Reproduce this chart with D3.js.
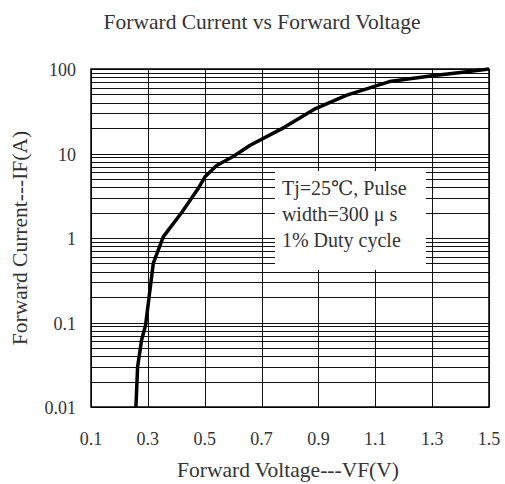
<!DOCTYPE html>
<html>
<head>
<meta charset="utf-8">
<script src="https://cdn.jsdelivr.net/npm/d3@7"></script>
<style>
  body { margin: 0; background: #fff; }
  text { font-family: "Liberation Serif", "DejaVu Serif", serif; fill: #333; }
</style>
</head>
<body>
<svg id="chart" width="505" height="484"></svg>
<script>
// data
const voltage = [0.258, 0.264, 0.278, 0.292, 0.319, 0.354, 0.419, 0.477, 0.501, 0.542, 0.60, 0.66, 0.78, 0.89, 1.0, 1.15, 1.3, 1.4, 1.5];
const current = [0.01, 0.03, 0.062, 0.093, 0.5, 1.03, 2.0, 3.85, 5.3, 7.2, 9.2, 12.5, 20.4, 34, 49, 71, 83, 91, 100];
const xTicks = [0.1, 0.3, 0.5, 0.7, 0.9, 1.1, 1.3, 1.5];
const yTicks = [0.01, 0.1, 1, 10, 100];
const noteLines = ["Tj=25\u2103, Pulse", "width=300 \u03bc s", "1% Duty cycle"];

const svg = d3.select("#chart");
const width = 505, height = 484;
const margin = {top: 69, right: 16, bottom: 77, left: 91};

const x = d3.scaleLinear()
  .domain([0.1, 1.5])
  .range([margin.left, width - margin.right]);

const y = d3.scaleLog()
  .domain([0.01, 100])
  .range([height - margin.bottom, margin.top]);

// horizontal log grid (1..9 per decade)
svg.append("g")
  .selectAll("line")
  .data(y.ticks())
  .join("line")
    .attr("x1", x(0.1)).attr("x2", x(1.5))
    .attr("y1", d => Math.round(y(d)) + 0.5)
    .attr("y2", d => Math.round(y(d)) + 0.5)
    .attr("stroke", "#111")
    .attr("stroke-width", 1);

// vertical grid
svg.append("g")
  .selectAll("line")
  .data(xTicks)
  .join("line")
    .attr("x1", d => Math.round(x(d)) + 0.5)
    .attr("x2", d => Math.round(x(d)) + 0.5)
    .attr("y1", y(0.01)).attr("y2", y(100))
    .attr("stroke", "#111")
    .attr("stroke-width", 1);

// plot border
svg.append("rect")
  .attr("x", x(0.1)).attr("y", y(100))
  .attr("width", x(1.5) - x(0.1))
  .attr("height", y(0.01) - y(100))
  .attr("fill", "none")
  .attr("stroke", "#000")
  .attr("stroke-width", 1.5);

// note box covers the grid
const boxX = x(0.747), boxY = y(6.2);
svg.append("rect")
  .attr("x", boxX).attr("y", boxY)
  .attr("width", x(1.278) - boxX)
  .attr("height", y(0.42) - boxY)
  .attr("fill", "#fff");

svg.append("g")
  .selectAll("text")
  .data(noteLines)
  .join("text")
    .attr("x", boxX + 7)
    .attr("y", (d, i) => boxY + 24 + i * 26)
    .attr("font-size", 20)
    .text(d => d);

// curve
const line = d3.line()
  .x(d => x(d[0]))
  .y(d => y(d[1]));

svg.append("path")
  .datum(d3.zip(voltage, current))
  .attr("d", line)
  .attr("fill", "none")
  .attr("stroke", "#000")
  .attr("stroke-width", 3.5)
  .attr("stroke-linejoin", "round");

// tick labels
svg.append("g")
  .selectAll("text")
  .data(xTicks)
  .join("text")
    .attr("x", d => x(d))
    .attr("y", 445)
    .attr("text-anchor", "middle")
    .attr("font-size", 18)
    .text(d => d);

svg.append("g")
  .selectAll("text")
  .data(yTicks)
  .join("text")
    .attr("x", 76)
    .attr("y", d => y(d) + 7)
    .attr("text-anchor", "end")
    .attr("font-size", 18)
    .text(d => d);

// titles
svg.append("text")
  .attr("x", 262).attr("y", 29)
  .attr("text-anchor", "middle")
  .attr("font-size", 21.5)
  .text("Forward Current vs Forward Voltage");

svg.append("text")
  .attr("x", 288).attr("y", 477)
  .attr("text-anchor", "middle")
  .attr("font-size", 21.5)
  .text("Forward Voltage---VF(V)");

svg.append("text")
  .attr("transform", "translate(27,238) rotate(-90)")
  .attr("text-anchor", "middle")
  .attr("font-size", 21.5)
  .text("Forward Current---IF(A)");
</script>
</body>
</html>
